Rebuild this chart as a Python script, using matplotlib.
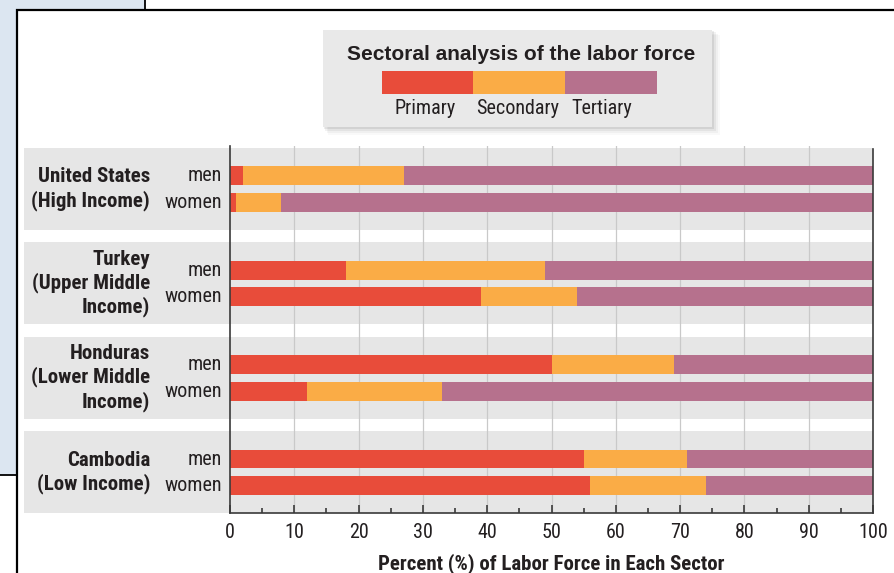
import matplotlib
matplotlib.use("Agg")
import matplotlib.pyplot as plt
from matplotlib import font_manager as fm
from matplotlib.patches import Rectangle
from matplotlib.transforms import blended_transform_factory

# ---- data -------------------------------------------------------------
countries = ["United States\n(High Income)",
             "Turkey\n(Upper Middle\nIncome)",
             "Honduras\n(Lower Middle\nIncome)",
             "Cambodia\n(Low Income)"]
groups = ["men", "women"]
sectors = ["Primary", "Secondary", "Tertiary"]

primary_men = [2, 18, 50, 55]
primary_women = [1, 39, 12, 56]
secondary_men = [25, 31, 19, 16]
secondary_women = [7, 15, 21, 18]
tertiary_men = [73, 51, 31, 29]
tertiary_women = [92, 46, 67, 26]

xticks = [0, 10, 20, 30, 40, 50, 60, 70, 80, 90, 100]
xlabel = "Percent (%) of Labor Force in Each Sector"
title = "Sectoral analysis of the labor force"

colors = ["#e84c3a", "#faac46", "#b6718d"]


def pick_font(names):
    for n in names:
        try:
            fm.findfont(fm.FontProperties(family=n), fallback_to_default=False)
            return n
        except Exception:
            continue
    return "DejaVu Sans"


NARROW = pick_font(["Liberation Sans Narrow", "Roboto Condensed", "Liberation Sans"])
WIDE = pick_font(["Liberation Sans", "DejaVu Sans"])
TXT = "#231f20"

W, H = 894, 573
fig = plt.figure(figsize=(W / 100, H / 100), dpi=100)


def fx(px):
    return px / W


def fy(py):
    return 1 - py / H


def frect(x0, y0, x1, y1, **kw):
    r = Rectangle((fx(x0), fy(y1)), fx(x1) - fx(x0), fy(y0) - fy(y1),
                  transform=fig.transFigure, **kw)
    fig.add_artist(r)
    return r


# background pages
frect(-5, -5, 145, 475, facecolor="#dce6f1", edgecolor="black", lw=1.3, zorder=-20)
frect(17, 10, W + 10, H + 10, facecolor="white", edgecolor="black", lw=1.6, zorder=-19)

# ---- axes -------------------------------------------------------------
ax = fig.add_axes([fx(230), fy(513), fx(873) - fx(230), fy(146) - fy(513)])
ax.set_facecolor("none")
ax.set_xlim(0, 100)
ax.set_ylim(3.429, -0.455)

n = len(countries)
off = 0.142
bh = 0.2
men_y = [i - off for i in range(n)]
women_y = [i + off for i in range(n)]

# grey bands behind each country (extend into the label area)
for i in range(n):
    band = ax.axhspan(i - 0.434, i + 0.434, xmin=-0.3204, xmax=1,
                      facecolor="#e6e6e6", edgecolor="none", zorder=0)
    band.set_clip_on(False)

for x in xticks[1:-1]:
    ax.axvline(x, color="#c9c9c9", lw=0.9, zorder=1)

men_vals = [primary_men, secondary_men, tertiary_men]
women_vals = [primary_women, secondary_women, tertiary_women]
left_m = [0] * n
left_w = [0] * n
for k in range(3):
    ax.barh(men_y, men_vals[k], left=left_m, height=bh, color=colors[k], zorder=2)
    ax.barh(women_y, women_vals[k], left=left_w, height=bh, color=colors[k], zorder=2)
    left_m = [a + b for a, b in zip(left_m, men_vals[k])]
    left_w = [a + b for a, b in zip(left_w, women_vals[k])]

# spines and ticks
for s in ["left", "bottom", "right"]:
    ax.spines[s].set_color("#3a3a3a")
    ax.spines[s].set_linewidth(1.2)
ax.spines["right"].set_bounds(3.429, -0.42)
ax.spines["top"].set_visible(False)
ax.set_yticks([])
ax.set_xticks(xticks)
ax.set_xticks(range(5, 100, 10), minor=True)
ax.tick_params(axis="x", which="major", direction="in", length=5.5, width=1.2,
               color="#3a3a3a", pad=7, labelsize=14.5, labelcolor=TXT)
ax.tick_params(axis="x", which="minor", direction="in", length=3.5, width=1.2,
               color="#3a3a3a")
for lab in ax.get_xticklabels():
    lab.set_fontfamily(NARROW)
ax.set_xlabel(xlabel, fontsize=15, fontweight="bold", family=NARROW,
              color=TXT, labelpad=8)

# row labels
tr = blended_transform_factory(ax.transAxes, ax.transData)
for i, c in enumerate(countries):
    ax.text(-0.1244, i, c, transform=tr, ha="right", va="center",
            fontsize=15, fontweight="bold", family=NARROW, color=TXT,
            linespacing=1.22)
    ax.text(-0.0124, men_y[i], groups[0], transform=tr, ha="right", va="center",
            fontsize=14.5, family=NARROW, color=TXT)
    ax.text(-0.0124, women_y[i], groups[1], transform=tr, ha="right", va="center",
            fontsize=14.5, family=NARROW, color=TXT)

# ---- legend panel -----------------------------------------------------
for d, a in [(8, 0.025), (6, 0.035), (4, 0.05), (2, 0.07)]:
    frect(323 + d * 0.6, 30 + d * 0.6, 712 + d, 127 + d, facecolor="black",
          alpha=a, edgecolor="none", zorder=3)
frect(323, 30, 712, 127, facecolor="#e9e9e9", edgecolor="none", zorder=4)
fig.text(fx(521), fy(54), title, ha="center", va="center", fontsize=15,
         fontweight="bold", family=WIDE, color=TXT, zorder=5)
seg_x = [382, 473.3, 565, 656.7]
for k in range(3):
    frect(seg_x[k], 71, seg_x[k + 1], 94, facecolor=colors[k], edgecolor="none", zorder=5)
for name, x in zip(sectors, [425, 518, 602]):
    fig.text(fx(x), fy(109), name, ha="center", va="center", fontsize=14.5,
             family=NARROW, color=TXT, zorder=5)

fig.savefig("out.png", dpi=100)
